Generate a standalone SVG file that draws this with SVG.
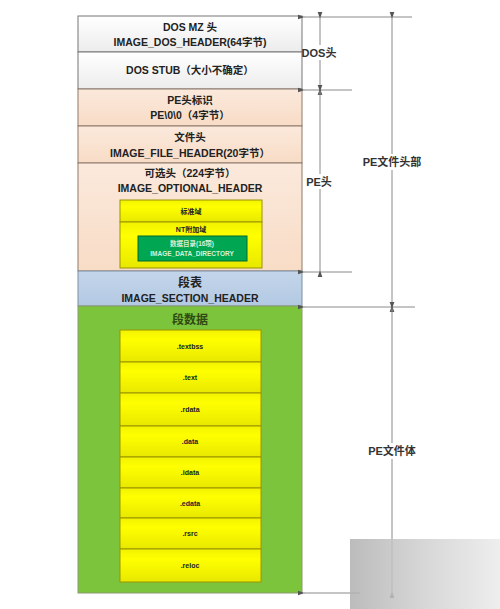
<svg xmlns="http://www.w3.org/2000/svg" width="500" height="609" viewBox="0 0 500 609">
<defs>
<linearGradient id="gDos" x1="0" y1="0" x2="0" y2="1"><stop offset="0" stop-color="#ffffff"/><stop offset="1" stop-color="#ececec"/></linearGradient>
<linearGradient id="gPe" x1="0" y1="0" x2="0" y2="1"><stop offset="0" stop-color="#fbe9dc"/><stop offset="1" stop-color="#f8dcc6"/></linearGradient>
<linearGradient id="gSec" x1="0" y1="0" x2="0" y2="1"><stop offset="0" stop-color="#c3d5ea"/><stop offset="1" stop-color="#b3c9e3"/></linearGradient>
<linearGradient id="gYel" x1="0" y1="0" x2="0" y2="1"><stop offset="0" stop-color="#f2f200"/><stop offset="0.3" stop-color="#ffff00"/><stop offset="1" stop-color="#e8e800"/></linearGradient>
<linearGradient id="gWm" x1="0" y1="0" x2="1" y2="0"><stop offset="0" stop-color="#b0b0b0"/><stop offset="0.5" stop-color="#d0d0d0"/><stop offset="1" stop-color="#ebebeb"/></linearGradient>
<marker id="ah" viewBox="0 0 10 10" refX="1" refY="5" markerWidth="7" markerHeight="7" orient="auto-start-reverse"><path d="M0,5 L10,1.5 L10,8.5 Z" fill="#555"/></marker>
</defs>
<style>
text{font-family:"Liberation Sans","Noto Sans CJK SC",sans-serif;text-anchor:middle;fill:#222;font-weight:bold}
.m{font-size:10.5px}
.s{font-size:7px}
.dl{font-size:11px;fill:#333}
.ln{stroke:#8a8a8a;stroke-width:1;fill:none}
.yb{fill:url(#gYel);stroke:#9a9400;stroke-width:1}
</style>
<rect width="500" height="609" fill="#ffffff"/>
<g id="dos-mz"><rect x="78" y="16" width="224" height="36" fill="url(#gDos)" stroke="#777" stroke-width="1"/>
<text class="m" x="190" y="31">DOS MZ 头</text><text class="m" x="190" y="46">IMAGE_DOS_HEADER(64字节)</text></g>
<g id="dos-stub"><rect x="78" y="52" width="224" height="37" fill="url(#gDos)" stroke="#777" stroke-width="1"/>
<text class="m" x="190" y="74">DOS STUB（大小不确定）</text></g>
<g id="pe-sig"><rect x="78" y="89" width="224" height="37" fill="url(#gPe)" stroke="#8f7a6a" stroke-width="1"/>
<text class="m" x="190" y="104">PE头标识</text><text class="m" x="190" y="119">PE\0\0（4字节）</text></g>
<g id="file-header"><rect x="78" y="126" width="224" height="37" fill="url(#gPe)" stroke="#8f7a6a" stroke-width="1"/>
<text class="m" x="190" y="141">文件头</text><text class="m" x="190" y="157">IMAGE_FILE_HEADER(20字节）</text></g>
<g id="optional-header"><rect x="78" y="163" width="224" height="108" fill="url(#gPe)" stroke="#8f7a6a" stroke-width="1"/>
<text class="m" x="190" y="177">可选头（224字节）</text><text class="m" x="190" y="192">IMAGE_OPTIONAL_HEADER</text>
<rect class="yb" x="120" y="200" width="142" height="22"/><text class="s" x="191" y="214">标准域</text>
<rect class="yb" x="120" y="222" width="142" height="46"/><text class="s" x="191" y="232">NT附加域</text>
<rect x="138" y="236" width="109" height="25" fill="#00a651" stroke="#006b2e" stroke-width="1"/>
<text class="s" x="192" y="246" style="fill:#d8f0d8;font-size:6.5px">数据目录(16项)</text><text class="s" x="192" y="256" style="fill:#d8f0d8;font-size:6.5px">IMAGE_DATA_DIRECTORY</text></g>
<g id="section-header"><rect x="78" y="271" width="224" height="35" fill="url(#gSec)" stroke="#7f8fa0" stroke-width="1"/>
<text x="190" y="287" style="font-size:12px">段表</text><text class="m" x="190" y="302">IMAGE_SECTION_HEADER</text></g>
<g id="section-data"><rect x="78" y="306" width="224" height="287" fill="#7cc43c" stroke="#8a9a70" stroke-width="1"/>
<text x="190" y="324" style="font-size:12px;fill:#2f4a12">段数据</text>
<rect class="yb" x="120" y="330" width="141" height="32"/><text class="s" x="190" y="349">.textbss</text>
<rect class="yb" x="120" y="362" width="141" height="31"/><text class="s" x="190" y="380">.text</text>
<rect class="yb" x="120" y="393" width="141" height="33"/><text class="s" x="190" y="412">.rdata</text>
<rect class="yb" x="120" y="426" width="141" height="31"/><text class="s" x="190" y="444">.data</text>
<rect class="yb" x="120" y="457" width="141" height="31"/><text class="s" x="190" y="475">.idata</text>
<rect class="yb" x="120" y="488" width="141" height="30"/><text class="s" x="190" y="506">.edata</text>
<rect class="yb" x="120" y="518" width="141" height="31"/><text class="s" x="190" y="536">.rsrc</text>
<rect class="yb" x="120" y="549" width="141" height="33"/><text class="s" x="190" y="568">.reloc</text></g>
<g id="connectors">
<line class="ln" x1="304" y1="17" x2="412" y2="17" marker-start="url(#ah)"/>
<line class="ln" x1="304" y1="90" x2="352" y2="90" marker-start="url(#ah)"/>
<line class="ln" x1="304" y1="272" x2="352" y2="272" marker-start="url(#ah)"/>
<line class="ln" x1="304" y1="307" x2="415" y2="307" marker-start="url(#ah)"/>
<line class="ln" x1="304" y1="593" x2="360" y2="593" marker-start="url(#ah)"/>
<line class="ln" x1="320" y1="18" x2="320" y2="89" marker-start="url(#ah)" marker-end="url(#ah)"/>
<line class="ln" x1="320" y1="91" x2="320" y2="271" marker-start="url(#ah)" marker-end="url(#ah)"/>
<line class="ln" x1="392" y1="18" x2="392" y2="306" marker-start="url(#ah)" marker-end="url(#ah)"/>
<line class="ln" x1="392" y1="308" x2="392" y2="592" marker-start="url(#ah)" marker-end="url(#ah)"/>
</g>
<g id="labels">
<rect x="303" y="45" width="33" height="15" fill="#fff"/><text class="dl" x="319" y="57">DOS头</text>
<rect x="306" y="174" width="27" height="15" fill="#fff"/><text class="dl" x="319" y="186">PE头</text>
<rect x="361" y="154" width="63" height="16" fill="#fff"/><text class="dl" x="392" y="166">PE文件头部</text>
<rect x="366" y="443" width="52" height="16" fill="#fff"/><text class="dl" x="392" y="455">PE文件体</text>
</g>
<rect x="350" y="539" width="150" height="70" fill="url(#gWm)" opacity="0.85"/>
</svg>
